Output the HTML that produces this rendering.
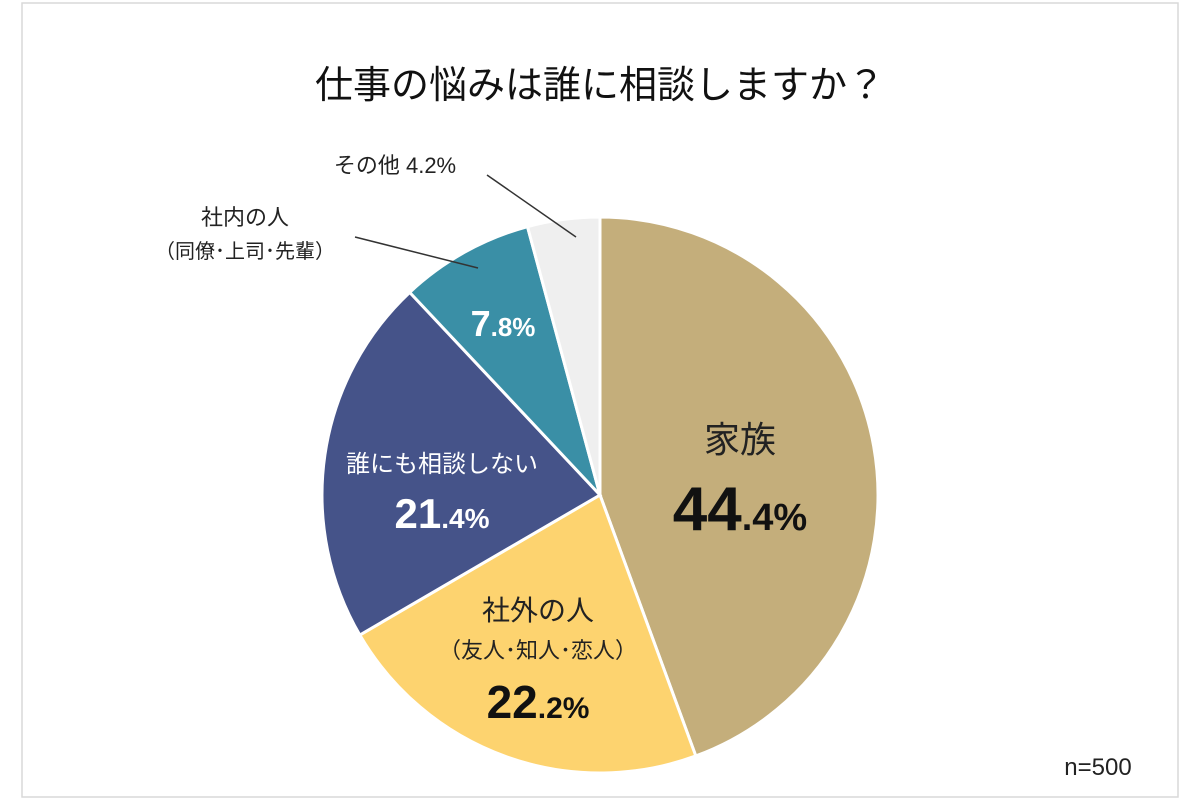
<!DOCTYPE html>
<html><head><meta charset="utf-8"><style>
body{margin:0;background:#fff;font-family:"Liberation Sans","Noto Sans CJK JP",sans-serif}
</style></head><body>
<svg width="1200" height="800" xmlns="http://www.w3.org/2000/svg" font-family="Liberation Sans, Noto Sans CJK JP, sans-serif">
<rect x="22" y="3" width="1156" height="794" fill="#fff" stroke="#d9d9d9" stroke-width="1.5"/>
<text x="600" y="98" text-anchor="middle" font-size="38" fill="#111">仕事の悩みは誰に相談しますか？</text>
<g id="slices"></g>
<g id="labels">
<text x="740" y="452" text-anchor="middle" font-size="36" fill="#222">家族</text>
<text x="740" y="530" text-anchor="middle" fill="#111" font-weight="bold"><tspan font-size="62">44</tspan><tspan font-size="38">.4%</tspan></text>
<text x="538" y="620" text-anchor="middle" font-size="28" fill="#222">社外の人</text>
<text x="538" y="658" text-anchor="middle" font-size="22" fill="#222">（友人･知人･恋人）</text>
<text x="538" y="718" text-anchor="middle" fill="#111" font-weight="bold"><tspan font-size="46">22</tspan><tspan font-size="30">.2%</tspan></text>
<text x="442" y="472" text-anchor="middle" font-size="24" fill="#fff">誰にも相談しない</text>
<text x="442" y="528" text-anchor="middle" fill="#fff" font-weight="bold"><tspan font-size="42">21</tspan><tspan font-size="28">.4%</tspan></text>
<text x="503" y="336" text-anchor="middle" fill="#fff" font-weight="bold"><tspan font-size="36">7</tspan><tspan font-size="26">.8%</tspan></text>
<text x="245" y="225" text-anchor="middle" font-size="22" fill="#222">社内の人</text>
<text x="245" y="258" text-anchor="middle" font-size="20" fill="#222">（同僚･上司･先輩）</text>
<line x1="355" y1="237" x2="478" y2="268" stroke="#333" stroke-width="1.5"/>
<text x="395" y="173" text-anchor="middle" font-size="22" fill="#222">その他 4.2%</text>
<line x1="487" y1="175" x2="576" y2="237" stroke="#333" stroke-width="1.5"/>
<text x="1098" y="775" text-anchor="middle" font-size="24" fill="#222">n=500</text>
</g>
</svg>
<script>
const categories=["家族","社外の人","誰にも相談しない","社内の人","その他"];
const values=[44.4,22.2,21.4,7.8,4.2];
const colors=["#c4ae7b","#fdd36f","#455389","#3a8fa6","#efefef"];
const cx=600,cy=495,r=278;
const g=document.getElementById('slices');
const total=values.reduce((a,b)=>a+b,0);
let a0=0;
values.forEach((v,i)=>{
  const a1=a0+v/total*Math.PI*2;
  const x0=cx+r*Math.sin(a0),y0=cy-r*Math.cos(a0);
  const x1=cx+r*Math.sin(a1),y1=cy-r*Math.cos(a1);
  const large=(a1-a0)>Math.PI?1:0;
  const p=document.createElementNS('http://www.w3.org/2000/svg','path');
  p.setAttribute('d',`M${cx},${cy} L${x0},${y0} A${r},${r} 0 ${large} 1 ${x1},${y1} Z`);
  p.setAttribute('fill',colors[i]);
  p.setAttribute('stroke','#fff');
  p.setAttribute('stroke-width','3');
  
  
  g.appendChild(p);
  a0=a1;
});
</script>
</body></html>
